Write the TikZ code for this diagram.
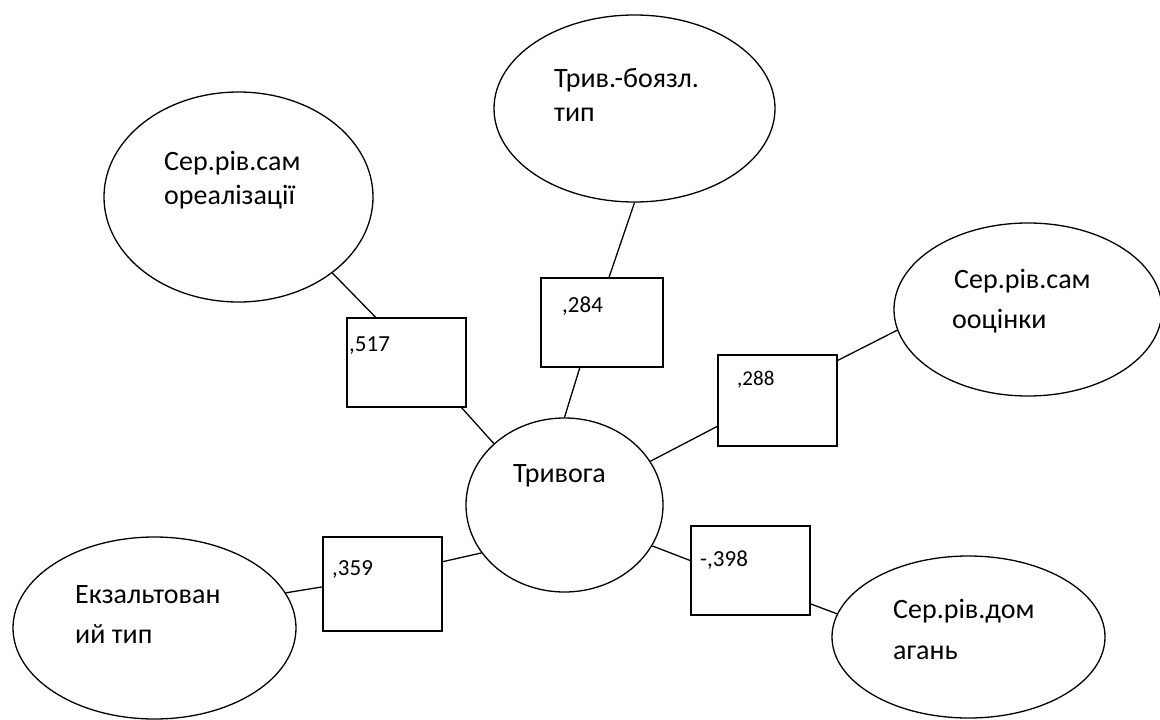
\documentclass[tikz,border=0pt]{standalone}
\usepackage{fontspec}
\setmainfont{Carlito}
\usetikzlibrary{shapes.geometric,calc}
\begin{document}
\begin{tikzpicture}[x=1pt,y=-1pt,
  oval/.style={draw,ellipse,line width=1.3pt,inner sep=0pt},
  box/.style={draw,rectangle,line width=1.3pt,inner sep=0pt},
  conn/.style={line width=1.3pt},
  lbl/.style={inner sep=0pt,anchor=base west,font=\fontsize{28}{33}\selectfont},
  num/.style={inner sep=0pt,anchor=base west,font=\fontsize{23}{28}\selectfont},
  smallnum/.style={inner sep=0pt,anchor=base west,font=\fontsize{21}{25}\selectfont}]
\useasboundingbox (0,0) rectangle (1160,720);
% ellipses
\node[oval,minimum width=269pt,minimum height=210pt] (e1) at (238.5,197) {};
\node[oval,minimum width=281pt,minimum height=187pt] (e2) at (634.5,108.5) {};
\node[oval,minimum width=268pt,minimum height=173pt] (e3) at (1028,309.5) {};
\node[oval,minimum width=197pt,minimum height=174pt] (trv) at (564.5,505) {};
\node[oval,minimum width=283pt,minimum height=182pt] (e5) at (154.5,628) {};
\node[oval,minimum width=273pt,minimum height=162pt] (e6) at (968.5,637) {};
% boxes
\node[box,minimum width=119pt,minimum height=89pt] (r517) at (406.5,362.5) {};
\node[box,minimum width=122pt,minimum height=89pt] (r284) at (602,322.5) {};
\node[box,minimum width=119pt,minimum height=91pt] (r288) at (777.5,400.5) {};
\node[box,minimum width=119pt,minimum height=94pt] (r359) at (382.5,584) {};
\node[box,minimum width=119pt,minimum height=89pt] (r398) at (750.5,570.5) {};
% texts
\node[lbl] (t1a) at (164,170) {Сер.рів.сам};
\node[lbl] (t1b) at (164,204) {ореалізації};
\node[lbl] (t2a) at (554,87) {Трив.-боязл.};
\node[lbl] (t2b) at (554,121) {тип};
\node[lbl] (t3a) at (954,288) {Сер.рів.сам};
\node[lbl] (t3b) at (952,328) {ооцінки};
\node[lbl] (t4) at (513,482) {Тривога};
\node[lbl] (t5a) at (75,603) {Екзальтован};
\node[lbl] (t5b) at (75,643) {ий тип};
\node[lbl] (t6a) at (893,618) {Сер.рів.дом};
\node[lbl] (t6b) at (893,659) {агань};
\node[num] (n517) at (349,351) {,517};
\node[num] (n284) at (562,312) {,284};
\node[smallnum] (n288) at (737,385) {,288};
\node[num] (n359) at (332,575) {,359};
\node[num] (n398) at (700,566) {-,398};
% connectors
\draw[conn] (e1.-39) -- ($(r517.north west)!0.244!(r517.north east)$);
\draw[conn] ($(r517.south west)!0.958!(r517.south east)$) -- (trv.139);
\draw[conn] (e2.south) -- ($(r284.north west)!0.557!(r284.north east)$);
\draw[conn] ($(r284.south west)!0.32!(r284.south east)$) -- (trv.north);
\draw[conn] (e3.189) -- ($(r288.north east)!0.066!(r288.south east)$);
\draw[conn] ($(r288.north west)!0.78!(r288.south west)$) -- (trv.27);
\draw[conn] (trv.210) -- ($(r359.north east)!0.266!(r359.south east)$);
\draw[conn] ($(r359.north west)!0.53!(r359.south west)$) -- (e5.15);
\draw[conn] (trv.-25) -- ($(r398.north west)!0.39!(r398.south west)$);
\draw[conn] ($(r398.north east)!0.87!(r398.south east)$) -- (e6.170);
\end{tikzpicture}
\end{document}
